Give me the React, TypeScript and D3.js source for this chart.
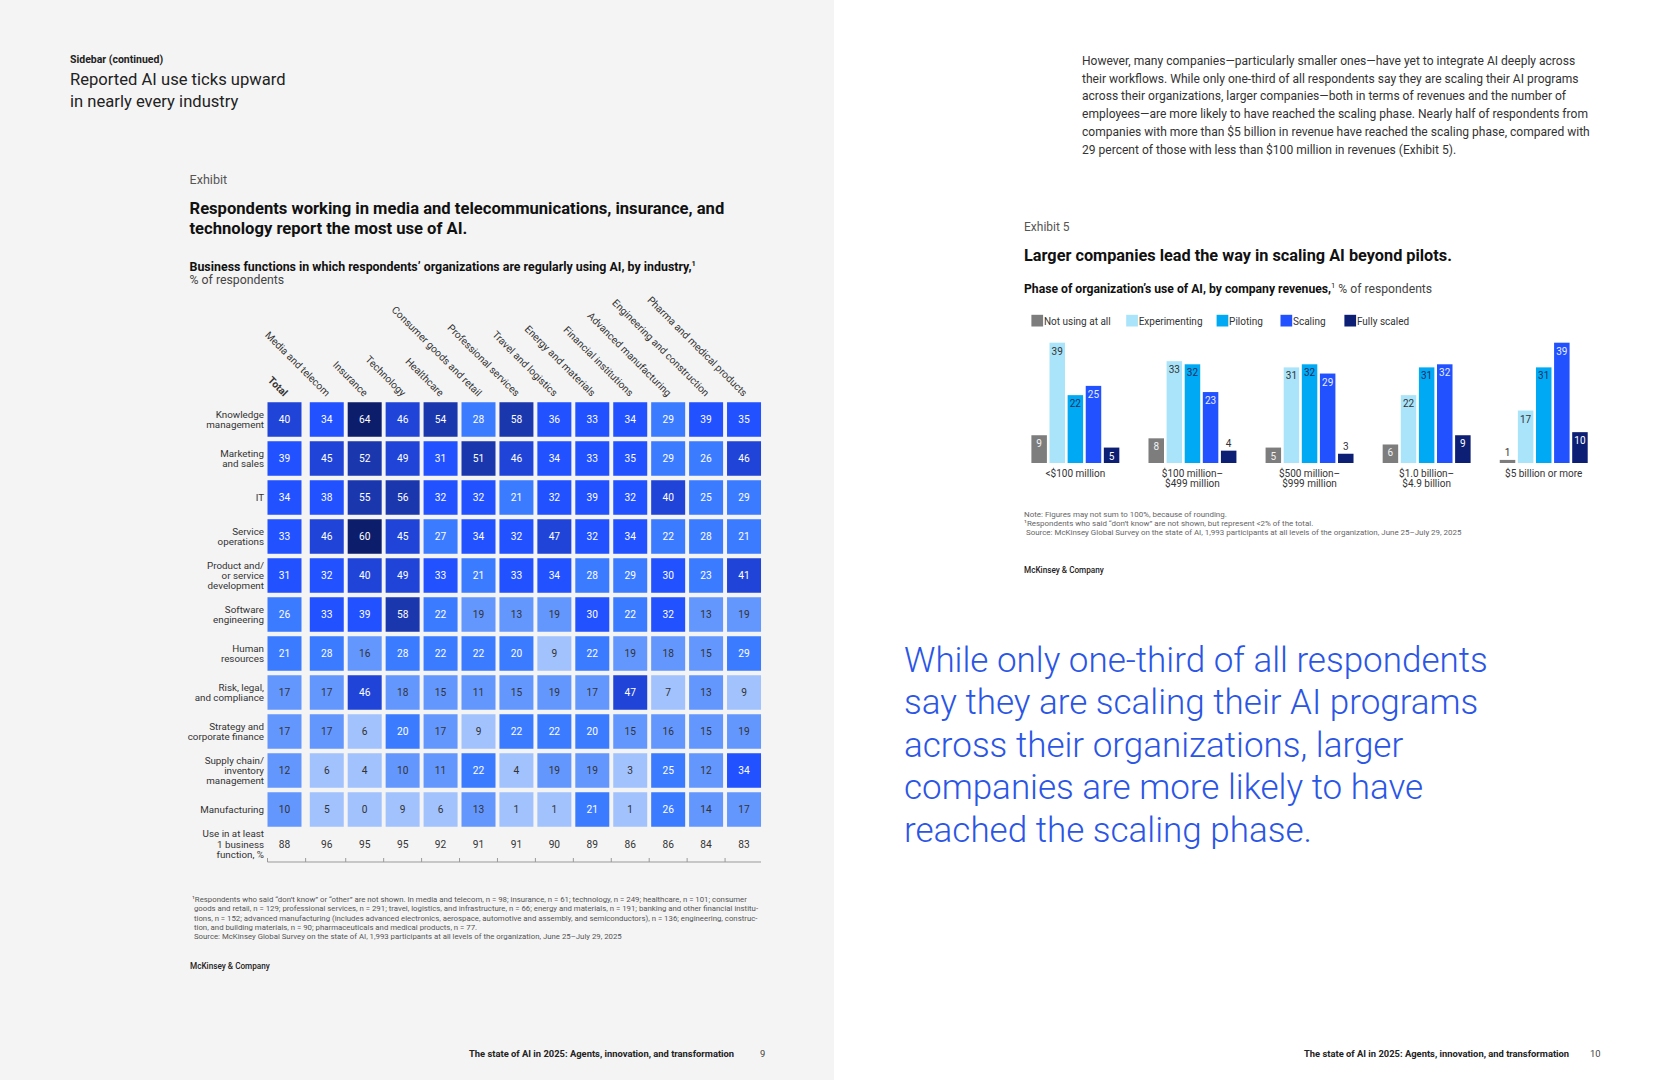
import React from 'react';
import * as d3 from 'd3';

// ---------- Heatmap data ----------
const industries = [
  'Total', 'Media and telecom', 'Insurance', 'Technology', 'Healthcare',
  'Consumer goods and retail', 'Professional services', 'Travel and logistics',
  'Energy and materials', 'Financial institutions', 'Advanced manufacturing',
  'Engineering and construction', 'Pharma and medical products',
];
const functionLabels = [
  ['Knowledge', 'management'],
  ['Marketing', 'and sales'],
  ['IT'],
  ['Service', 'operations'],
  ['Product and/', 'or service', 'development'],
  ['Software', 'engineering'],
  ['Human', 'resources'],
  ['Risk, legal,', 'and compliance'],
  ['Strategy and', 'corporate finance'],
  ['Supply chain/', 'inventory', 'management'],
  ['Manufacturing'],
];
const knowledgeMgmt = [40, 34, 64, 46, 54, 28, 58, 36, 33, 34, 29, 39, 35];
const marketingSales = [39, 45, 52, 49, 31, 51, 46, 34, 33, 35, 29, 26, 46];
const itRow = [34, 38, 55, 56, 32, 32, 21, 32, 39, 32, 40, 25, 29];
const serviceOps = [33, 46, 60, 45, 27, 34, 32, 47, 32, 34, 22, 28, 21];
const productDev = [31, 32, 40, 49, 33, 21, 33, 34, 28, 29, 30, 23, 41];
const softwareEng = [26, 33, 39, 58, 22, 19, 13, 19, 30, 22, 32, 13, 19];
const humanRes = [21, 28, 16, 28, 22, 22, 20, 9, 22, 19, 18, 15, 29];
const riskLegal = [17, 17, 46, 18, 15, 11, 15, 19, 17, 47, 7, 13, 9];
const strategyFin = [17, 17, 6, 20, 17, 9, 22, 22, 20, 15, 16, 15, 19];
const supplyChain = [12, 6, 4, 10, 11, 22, 4, 19, 19, 3, 25, 12, 34];
const manufacturing = [10, 5, 0, 9, 6, 13, 1, 1, 21, 1, 26, 14, 17];
const heatRows = [knowledgeMgmt, marketingSales, itRow, serviceOps, productDev, softwareEng,
  humanRes, riskLegal, strategyFin, supplyChain, manufacturing];
const useAtLeastOne = [88, 96, 95, 95, 92, 91, 91, 90, 89, 86, 86, 84, 83];
const useRowLabel = ['Use in at least', '1 business', 'function, %'];

// ---------- Bar chart data ----------
const revenueGroups = [
  ['<$100 million'],
  ['$100 million–', '$499 million'],
  ['$500 million–', '$999 million'],
  ['$1.0 billion–', '$4.9 billion'],
  ['$5 billion or more'],
];
const phases = ['Not using at all', 'Experimenting', 'Piloting', 'Scaling', 'Fully scaled'];
const notUsing = [9, 8, 5, 6, 1];
const experimenting = [39, 33, 31, 22, 17];
const piloting = [22, 32, 32, 31, 31];
const scaling = [25, 23, 29, 32, 39];
const fullyScaled = [5, 4, 3, 9, 10];
const phaseValues = [notUsing, experimenting, piloting, scaling, fullyScaled];
const phaseColors = ['#7d7d7d', '#a9e4fa', '#00a9f4', '#2251ff', '#0c1f75'];
const phaseText = ['#f2f2f2', '#333333', '#1d2f5e', '#e8edff', '#ffffff'];

// ---------- Text ----------
const paragraphLines = [
  'However, many companies—particularly smaller ones—have yet to integrate AI deeply across',
  'their workflows. While only one-third of all respondents say they are scaling their AI programs',
  'across their organizations, larger companies—both in terms of revenues and the number of',
  'employees—are more likely to have reached the scaling phase. Nearly half of respondents from',
  'companies with more than $5 billion in revenue have reached the scaling phase, compared with',
  '29 percent of those with less than $100 million in revenues (Exhibit 5).',
];
const quoteLines = [
  'While only one-third of all respondents',
  'say they are scaling their AI programs',
  'across their organizations, larger',
  'companies are more likely to have',
  'reached the scaling phase.',
];
const leftNotes = [
  '¹Respondents who said “don’t know” or “other” are not shown. In media and telecom, n = 98; insurance, n = 61; technology, n = 249; healthcare, n = 101; consumer',
  ' goods and retail, n = 129; professional services, n = 291; travel, logistics, and infrastructure, n = 66; energy and materials, n = 191; banking and other financial institu-',
  ' tions, n = 152; advanced manufacturing (includes advanced electronics, aerospace, automotive and assembly, and semiconductors), n = 136; engineering, construc-',
  ' tion, and building materials, n = 90; pharmaceuticals and medical products, n = 77.',
  ' Source: McKinsey Global Survey on the state of AI, 1,993 participants at all levels of the organization, June 25–July 29, 2025',
];
const rightNotes = [
  'Note: Figures may not sum to 100%, because of rounding.',
  '¹Respondents who said “don’t know” are not shown, but represent <2% of the total.',
  ' Source: McKinsey Global Survey on the state of AI, 1,993 participants at all levels of the organization, June 25–July 29, 2025',
];

const FONT = 'Roboto, "Noto Sans", Arial, sans-serif';

export default function App() {
  const W = 1669;
  const H = 1080;

  // Heatmap scales
  const colBand = d3.scaleBand<string>().domain(industries.slice(1)).range([307.8, 763])
    .paddingInner(0.104).paddingOuter(0.052);
  const bw = colBand.bandwidth();
  const totalX = 267.5;
  const colX = (i: number) => (i === 0 ? totalX : (colBand(industries[i]) as number));
  const rowBand = d3.scaleBand<number>().domain(d3.range(heatRows.length)).range([400, 829])
    .paddingInner(0.115).paddingOuter(0.0575);
  const bh = rowBand.bandwidth();
  const cellColor = d3.scaleThreshold<number, string>().domain([10, 20, 30, 40, 50, 60])
    .range(['#a2c2fd', '#6497fe', '#3b7bff', '#2251ff', '#2044d8', '#1b37ae', '#0c1d6c']);
  const useY = 847.5;
  const axisY = 862;
  const labelX = 264;
  const gapHalf = (colBand.step() - bw) / 2;

  // Bar chart scales
  const groupKeys = revenueGroups.map((g) => g.join(' '));
  const x0 = d3.scaleBand<string>().domain(groupKeys).range([1031.4, 1587.7]).paddingInner(0.249).paddingOuter(0);
  const x1 = d3.scaleBand<string>().domain(phases).range([0, x0.bandwidth()]).paddingInner(0.144);
  const y = d3.scaleLinear().domain([0, 39]).range([463, 342.7]);

  const legendX = [1031.4, 1126.2, 1216.6, 1280.5, 1344.4];

  return (
    <svg width={W} height={H} viewBox={`0 0 ${W} ${H}`}
      style={{ position: 'absolute', left: 0, top: 0, fontFamily: FONT }}>
      <rect x={0} y={0} width={834} height={H} fill="#f4f4f4" />
      <rect x={834} y={0} width={W - 834} height={H} fill="#ffffff" />

      {/* Left page header */}
      <text x={70} y={63} fontSize={10.5} fontWeight={700} fill="#222">Sidebar (continued)</text>
      <text x={70} y={84.5} fontSize={16.6} fill="#222">Reported AI use ticks upward</text>
      <text x={70} y={106.5} fontSize={16.6} fill="#222">in nearly every industry</text>

      <text x={189.5} y={183.5} fontSize={12.6} fill="#555">Exhibit</text>
      <text x={189.5} y={214} fontSize={16.6} fontWeight={700} fill="#111">Respondents working in media and telecommunications, insurance, and</text>
      <text x={189.5} y={233.5} fontSize={16.6} fontWeight={700} fill="#111">technology report the most use of AI.</text>
      <text x={189.5} y={270.7} fontSize={12.4} fontWeight={700} fill="#111">
        Business functions in which respondents’ organizations are regularly using AI, by industry,
        <tspan fontSize={7.5} dy={-4.5}>1</tspan>
      </text>
      <text x={189.5} y={284} fontSize={12.3} fill="#444">% of respondents</text>

      {/* Column headers */}
      {industries.map((name, i) => (
        <text key={name} transform={`translate(${colX(i) + bw / 2 - 1},397) rotate(45)`}
          textAnchor="end" fontSize={10.2} fontWeight={i === 0 ? 700 : 400} fill="#333">{name}</text>
      ))}

      {/* Cells */}
      {heatRows.map((row, r) => (
        <g key={r}>
          {row.map((v, c) => (
            <g key={c}>
              <rect x={colX(c)} y={rowBand(r) as number} width={bw} height={bh} fill={cellColor(v)} />
              <text x={colX(c) + bw / 2} y={(rowBand(r) as number) + bh / 2 + 3.6} textAnchor="middle"
                fontSize={10.2} fill={v >= 20 ? '#ffffff' : '#333'}>{v}</text>
            </g>
          ))}
          {functionLabels[r].map((line, k) => (
            <text key={k} x={labelX} textAnchor="end" fontSize={9.8} fill="#333"
              y={(rowBand(r) as number) + bh / 2 + 3.5 + (k - (functionLabels[r].length - 1) / 2) * 10.3}>{line}</text>
          ))}
        </g>
      ))}

      {/* Use in at least one row */}
      {useAtLeastOne.map((v, c) => (
        <text key={c} x={colX(c) + bw / 2} y={useY} textAnchor="middle" fontSize={10.2} fill="#333">{v}</text>
      ))}
      {useRowLabel.map((line, k) => (
        <text key={k} x={labelX} y={useY + (k - 1) * 10.3} textAnchor="end" fontSize={9.8} fill="#333">{line}</text>
      ))}
      <line x1={totalX} x2={colX(12) + bw} y1={axisY} y2={axisY} stroke="#999" strokeWidth={1} />
      {industries.map((_, i) => {
        const tx = i === 0 ? totalX : i === 1 ? (totalX + bw + colX(1)) / 2 : colX(i) - gapHalf;
        return <line key={i} x1={tx} x2={tx} y1={axisY} y2={axisY - 4} stroke="#999" strokeWidth={1} />;
      })}

      {/* Left notes */}
      {leftNotes.map((line, k) => (
        <text key={k} x={192} y={902 + k * 9.3} fontSize={7.8} fill="#555" style={{ whiteSpace: 'pre' }}>{line}</text>
      ))}
      <text x={190} y={969.3} fontSize={8.2} fontWeight={500} fill="#222">McKinsey &amp; Company</text>

      {/* Footers */}
      <text x={469} y={1057.3} fontSize={9.4} fontWeight={700} fill="#222">The state of AI in 2025: Agents, innovation, and transformation</text>
      <text x={760} y={1057.3} fontSize={9.4} fill="#444">9</text>
      <text x={1304} y={1057.3} fontSize={9.4} fontWeight={700} fill="#222">The state of AI in 2025: Agents, innovation, and transformation</text>
      <text x={1590} y={1057.3} fontSize={9.4} fill="#444">10</text>

      {/* Right paragraph */}
      {paragraphLines.map((line, k) => (
        <text key={k} x={1082} y={65 + k * 17.7} fontSize={12.05} fill="#333">{line}</text>
      ))}

      {/* Exhibit 5 */}
      <text x={1024} y={230.7} fontSize={12} fill="#555">Exhibit 5</text>
      <text x={1024} y={260.7} fontSize={16.3} fontWeight={700} fill="#111">Larger companies lead the way in scaling AI beyond pilots.</text>
      <text x={1024} y={292.7} fontSize={12.2} fill="#111">
        <tspan fontWeight={700}>Phase of organization’s use of AI, by company revenues,</tspan>
        <tspan fontSize={7.5} dy={-4.5}>1</tspan>
        <tspan dy={4.5} fill="#444"> % of respondents</tspan>
      </text>

      {/* Legend */}
      {phases.map((p, i) => (
        <g key={p}>
          <rect x={legendX[i]} y={314.8} width={11.7} height={11.7} fill={phaseColors[i]} />
          <text x={legendX[i] + 12.5} y={324.5} fontSize={10} fill="#333">{p}</text>
        </g>
      ))}

      {/* Bars */}
      {groupKeys.map((g, gi) => (
        <g key={g} transform={`translate(${x0(g)},0)`}>
          {phases.map((p, pi) => {
            const v = phaseValues[pi][gi];
            const bx = x1(p) as number;
            const top = y(v);
            const inside = v >= 5;
            return (
              <g key={p}>
                <rect x={bx} y={top} width={x1.bandwidth()} height={y(0) - top} fill={phaseColors[pi]} />
                <text x={bx + x1.bandwidth() / 2} y={inside ? top + 12 : top - 4} textAnchor="middle"
                  fontSize={10} fill={inside ? phaseText[pi] : '#333'}>{v}</text>
              </g>
            );
          })}
          {revenueGroups[gi].map((line, k) => (
            <text key={k} x={x0.bandwidth() / 2} y={476.7 + k * 10} textAnchor="middle" fontSize={10} fill="#333">{line}</text>
          ))}
        </g>
      ))}

      {/* Right notes */}
      {rightNotes.map((line, k) => (
        <text key={k} x={1024} y={516.5 + k * 9} fontSize={7.95} fill="#666" style={{ whiteSpace: 'pre' }}>{line}</text>
      ))}
      <text x={1024} y={573} fontSize={8.2} fontWeight={500} fill="#222">McKinsey &amp; Company</text>

      {/* Quote */}
      {quoteLines.map((line, k) => (
        <text key={k} x={904} y={671.5 + k * 42.6} fontSize={35} fontWeight={300} fill="#2a55e6">{line}</text>
      ))}
    </svg>
  );
}
